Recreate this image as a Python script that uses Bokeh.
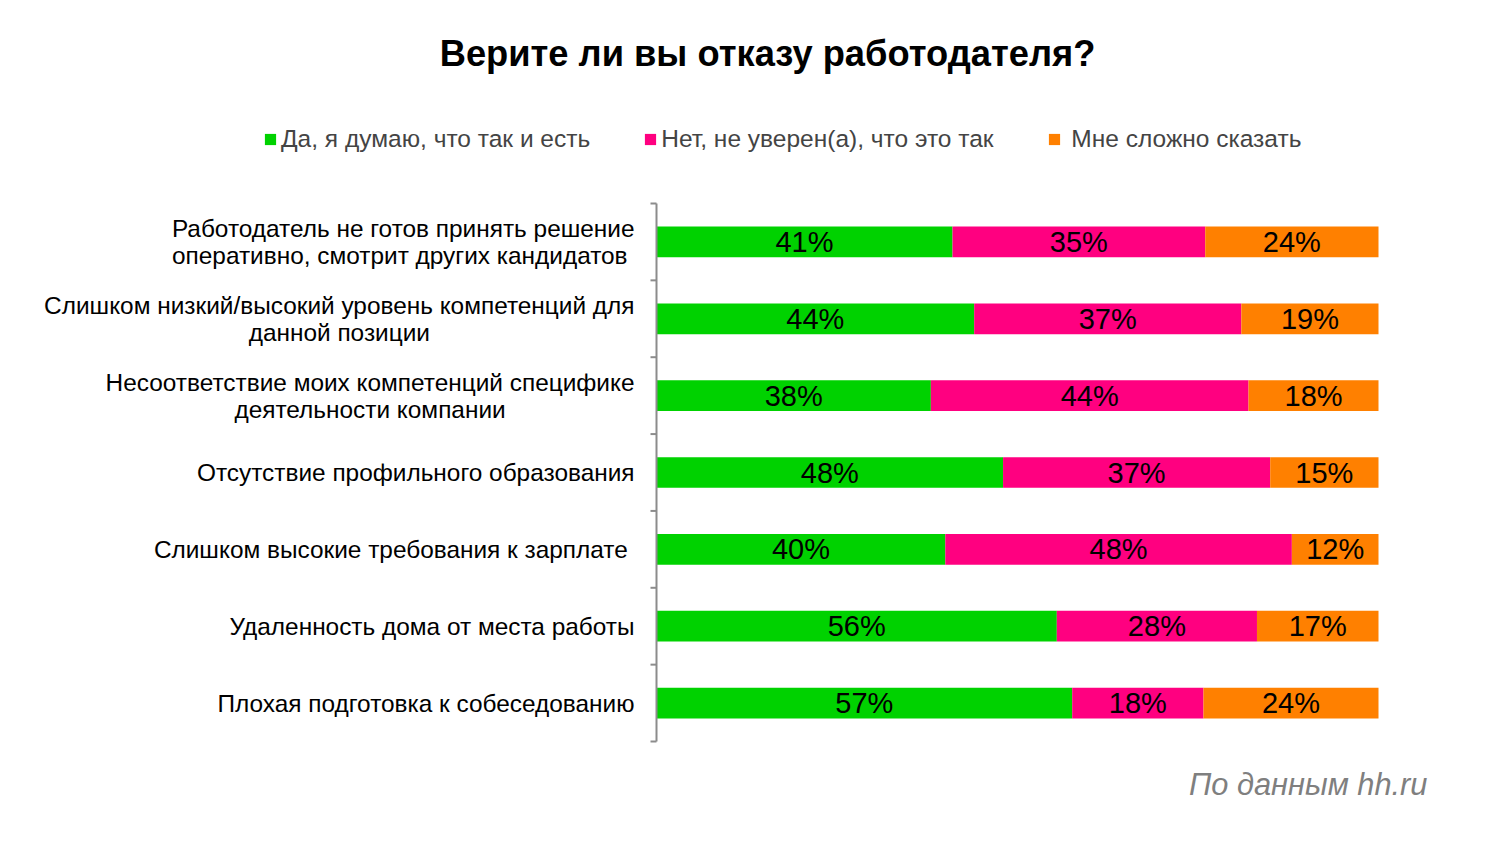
from bokeh.plotting import figure
from bokeh.models import Range1d, Label, Legend, LegendItem, ColumnDataSource
from bokeh.core.properties import value
from bokeh.embed import file_html
from bokeh.resources import INLINE

categories = [
    "Работодатель не готов принять решение\nоперативно, смотрит других кандидатов ",
    "Слишком низкий/высокий уровень компетенций для\nданной позиции",
    "Несоответствие моих компетенций специфике\nдеятельности компании",
    "Отсутствие профильного образования",
    "Слишком высокие требования к зарплате ",
    "Удаленность дома от места работы",
    "Плохая подготовка к собеседованию",
]
yes_vals = [41, 44, 38, 48, 40, 56, 57]
no_vals = [35, 37, 44, 37, 48, 28, 18]
unsure_vals = [24, 19, 18, 15, 12, 17, 24]
series_names = ["Да, я думаю, что так и есть",
                "Нет, не уверен(а), что это так",
                " Мне сложно сказать"]
colors = ["#00D200", "#FF0080", "#FF8000"]

title_text = "Верите ли вы отказу работодателя?"
source_text = "По данным hh.ru"

FONT = "Liberation Sans"
W, H = 1485, 859
# plot area in pixels (layout)
X0, X1, Y0, Y1 = 656, 1378, 203, 741
n = len(categories)
PX = X1 - X0            # pixels per unit share
ROW = (Y1 - Y0) / n     # pixels per category

p = figure(width=W, height=H, output_backend="svg", toolbar_location=None,
           x_range=Range1d(-X0 / PX, (W - X0) / PX),
           y_range=Range1d(n + (H - Y1) / ROW, -Y0 / ROW),
           x_axis_type=None, y_axis_type=None,
           min_border_left=0, min_border_right=0,
           min_border_top=0, min_border_bottom=0)
p.outline_line_color = None
p.background_fill_color = "white"
p.border_fill_color = "white"

# normalized (100% stacked)
tot = [a + b + c for a, b, c in zip(yes_vals, no_vals, unsure_vals)]
yes_f = [a / t for a, t in zip(yes_vals, tot)]
no_f = [b / t for b, t in zip(no_vals, tot)]
uns_f = [c / t for c, t in zip(unsure_vals, tot)]
ys = [i + 0.5 for i in range(n)]

src = ColumnDataSource(dict(y=ys, yes=yes_f, no=no_f, uns=uns_f))
rends = p.hbar_stack(["yes", "no", "uns"], y="y", height=0.4, color=colors,
                     line_color=None, source=src)

# labels inside bars
lx, ly, lt = [], [], []
for i in range(n):
    left = 0.0
    for f, v in ((yes_f[i], yes_vals[i]), (no_f[i], no_vals[i]), (uns_f[i], unsure_vals[i])):
        lx.append(left + f / 2)
        ly.append(ys[i])
        lt.append(f"{v}%")
        left += f
p.text(x=lx, y=ly, text=lt, text_align="center", text_baseline="middle",
       text_font=value(FONT), text_font_size="29px", text_color="black")

# category axis: line and ticks at category boundaries
AXC = "#8C8C8C"
p.segment(x0=[0], y0=[0], x1=[0], y1=[n], line_color=AXC, line_width=2)
bounds = list(range(n + 1))
p.segment(x0=[0] * len(bounds), y0=bounds, x1=[-6 / PX] * len(bounds), y1=bounds,
          line_color=AXC, line_width=2)

# category labels
for i, c in enumerate(categories):
    p.add_layout(Label(x=0, y=ys[i], x_offset=-22, text=c,
                       anchor="center_right", text_align="center",
                       text_baseline="middle", text_line_height=1.0,
                       text_font=FONT, text_font_size="24.4px", text_color="black"))

# legend
items = [LegendItem(label=nm, renderers=[r]) for nm, r in zip(series_names, rends)]
leg = Legend(items=items, orientation="horizontal", location=(263, H - 153),
             padding=0, margin=0, spacing=53, label_standoff=4,
             glyph_width=14, glyph_height=14, label_height=24,
             label_text_font=FONT, label_text_font_size="24.5px",
             border_line_color=None, background_fill_alpha=0)
p.add_layout(leg)

# title and source
p.add_layout(Label(x=767, y=H - 53, x_units="screen", y_units="screen", text=title_text,
                   text_align="center", text_baseline="middle",
                   text_font=FONT, text_font_style="bold", text_font_size="36.3px",
                   text_color="black"))
p.add_layout(Label(x=1427, y=H - 784, x_units="screen", y_units="screen", text=source_text,
                   text_align="right", text_baseline="middle",
                   text_font=FONT, text_font_style="italic", text_font_size="30.8px",
                   text_color="#7F7F7F"))

open("out.html", "w").write(file_html(p, INLINE))
